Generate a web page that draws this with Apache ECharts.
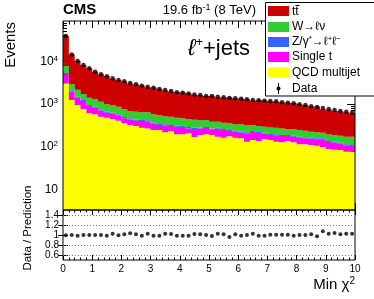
<!DOCTYPE html>
<html><head><meta charset="utf-8">
<script src="https://cdn.jsdelivr.net/npm/echarts@6/dist/echarts.min.js"></script>
<style>html,body{margin:0;padding:0;background:#fff}#c{width:374px;height:299px}</style>
</head><body><div id="c"></div>
<script>
// 50 bins of Min chi2 from 0 to 10 (width 0.2)
const binLabels = Array.from({length: 50}, (_, i) => (i * 0.2).toFixed(1));
const xTickLabels = ['0','1','2','3','4','5','6','7','8','9','10'];
const yMainTicks = [10, 100, 1000, 10000];
const yRatioTicks = [0.6, 0.8, 1, 1.2, 1.4];

const qcd = [3050,1240,950,765,605,575,505,480,445,408,353,322,305,279,269,246,246,217,233,195,195,206,169,188,195,188,171,162,175,162,157,131,144,136,152,144,131,127,136,127,114,114,110,105,98,88,85,84,76,76];
const singleTop = [1930,700,450,410,295,245,205,145,148,135,109,115,103,121,125,101,76,93,72,100,95,63,91,81,79,69,93,84,58,62,56,75,77,73,50,44,54,51,42,44,48,43,44,44,51,41,39,34,32,28];
const zjets = [340,150,80,65,50,45,40,35,32,32,38,25,29,22,21,18,18,25,17,15,20,21,19,14,16,12,15,14,13,13,11,11,12,12,11,10,10,10,10,10,9,9,8,8,8,7,7,6,6,6];
const wjets = [2440,850,680,470,450,445,380,325,325,290,250,223,223,216,223,210,212,180,183,170,152,155,149,132,132,116,106,105,107,98,111,105,89,84,82,85,84,81,72,76,75,71,62,60,56,59,57,57,57,61];
const ttbar = [31500,11560,8170,6490,5500,4390,3870,3575,2945,2810,2605,2335,2195,2090,1835,1865,1730,1560,1465,1445,1390,1350,1220,1185,1130,1185,1065,1050,1085,1010,1010,970,885,930,920,885,870,825,810,795,740,715,650,655,540,550,510,495,470,440];
const dataCounts = [39000,14500,10200,8200,6900,5700,5000,4500,4000,3650,3400,3120,2890,2690,2540,2410,2250,2130,2010,1900,1830,1770,1680,1620,1550,1540,1490,1435,1380,1360,1330,1290,1240,1220,1200,1175,1155,1100,1075,1040,985,950,885,850,805,765,725,686,660,630];
const ratio = [0.993,1.0,0.987,1.0,1.0,1.0,1.0,0.987,1.027,0.993,1.013,1.033,1.013,0.987,1.027,0.987,0.987,1.027,1.02,0.987,0.987,0.987,1.02,1.013,1.0,0.98,1.027,1.013,0.96,1.013,0.987,1.0,1.027,0.987,0.987,1.007,1.007,1.007,1.007,0.987,1.0,1.0,1.013,0.973,1.073,1.027,1.04,1.013,1.027,1.027];

const FONT = "'Liberation Sans', Arial, Helvetica, sans-serif";
const Y_MIN = 3.3, Y_MAX = 88000;

const components = [
  {name: 'QCD multijet', vals: qcd, color: '#ffff00'},
  {name: 'Single t', vals: singleTop, color: '#ff00ff'},
  {name: 'Z/gamma', vals: zjets, color: '#3366ff'},
  {name: 'W', vals: wjets, color: '#33cc33'},
  {name: 'ttbar', vals: ttbar, color: '#cc0000'}
];

// stacked boundaries, one filled step polygon per component
const cum = binLabels.map(() => 0);
const stackSeries = components.map((c, k) => {
  const lows = c.vals.map((v, i) => k === 0 ? 1 : cum[i]);
  c.vals.forEach((v, i) => { cum[i] += v; });
  const highs = cum.slice();
  return {
    type: 'custom', name: c.name, xAxisIndex: 0, yAxisIndex: 0, clip: true,
    silent: true, animation: false, z: 2,
    renderItem: function (params, api) {
      const w = api.coord([1, 10])[0] - api.coord([0, 10])[0];
      const top = [], bot = [];
      for (let i = 0; i < highs.length; i++) {
        const ph = api.coord([i, highs[i]]);
        const pl = api.coord([i, lows[i]]);
        top.push([ph[0] - w / 2, ph[1]], [ph[0] + w / 2, ph[1]]);
        bot.push([pl[0] - w / 2, pl[1]], [pl[0] + w / 2, pl[1]]);
      }
      const pts = top.concat(bot.reverse());
      return {type: 'polygon', shape: {points: pts}, style: {fill: c.color}};
    },
    data: [[0, 10]]
  };
});

const minorLog = [];
for (let e = 0; e <= 4; e++) for (let m = 2; m <= 9; m++) { const v = m * Math.pow(10, e); if (v > Y_MIN && v < Y_MAX) minorLog.push(v); }

function logLabel(v) {
  const e = Math.round(Math.log10(v));
  return e === 1 ? '10' : '10{s|' + e + '}';
}

const chart = echarts.init(document.getElementById('c'), null, {renderer: 'canvas'});
const blk = {color: '#000', width: 1};
const xValAxis = (grid, pos, showLabel, majLen, minLen) => ({
  type: 'value', gridIndex: grid, position: pos, min: 0, max: 10, interval: 1,
  axisLine: {show: false}, splitLine: {show: false},
  axisTick: {show: true, inside: true, length: majLen, lineStyle: blk},
  minorTick: {show: true, splitNumber: 5, length: minLen, lineStyle: blk},
  axisLabel: {show: showLabel, fontFamily: FONT, fontSize: 10, color: '#000', margin: 4,
    formatter: v => xTickLabels[Math.round(v)]}
});
const logAxis = (pos, ticks, len, labels) => ({
  type: 'log', gridIndex: 0, position: pos, min: Y_MIN, max: Y_MAX, logBase: 10,
  axisLine: {show: false}, splitLine: {show: false}, minorTick: {show: false},
  axisTick: {show: true, inside: true, length: len, lineStyle: blk, customValues: ticks},
  axisLabel: labels ? {show: true, customValues: ticks, fontFamily: FONT, fontSize: 12, color: '#000', margin: 5,
    formatter: logLabel, rich: {s: {fontFamily: FONT, fontSize: 8, verticalAlign: 'top', lineHeight: 14, color: '#000'}}}
    : {show: false}
});

const option = {
  animation: false,
  backgroundColor: '#fff',
  grid: [
    {left: 63, top: 21, width: 292, height: 189, show: true, borderColor: '#000', borderWidth: 1, backgroundColor: 'transparent', z: 5},
    {left: 63, top: 210, width: 292, height: 50, show: true, borderColor: '#000', borderWidth: 1, backgroundColor: 'transparent', z: 5}
  ],
  xAxis: [
    {type: 'category', gridIndex: 0, data: binLabels, show: false, boundaryGap: true, position: 'bottom'},
    xValAxis(0, 'bottom', false, 7, 3.5),
    xValAxis(0, 'top', false, 7, 3.5),
    {type: 'category', gridIndex: 1, data: binLabels, show: false, boundaryGap: true, position: 'bottom'},
    xValAxis(1, 'bottom', true, 5, 2.5),
    xValAxis(1, 'top', false, 5, 2.5)
  ],
  yAxis: [
    logAxis('left', yMainTicks, 8, true),
    logAxis('left', minorLog, 4, false),
    logAxis('right', yMainTicks, 8, false),
    logAxis('right', minorLog, 4, false),
    {type: 'value', gridIndex: 1, position: 'left', min: 0.5, max: 1.5,
      axisLine: {show: false}, splitLine: {show: false},
      axisTick: {show: true, inside: true, length: 5, lineStyle: blk, customValues: yRatioTicks},
      axisLabel: {show: true, customValues: yRatioTicks, fontFamily: FONT, fontSize: 10, color: '#000', margin: 4,
        formatter: v => String(+v.toFixed(1))}},
    {type: 'value', gridIndex: 1, position: 'right', min: 0.5, max: 1.5,
      axisLine: {show: false}, splitLine: {show: false},
      axisTick: {show: true, inside: true, length: 5, lineStyle: blk, customValues: yRatioTicks},
      axisLabel: {show: false}}
  ],
  series: stackSeries.concat([
    {type: 'scatter', xAxisIndex: 0, yAxisIndex: 0, symbol: 'circle', symbolSize: 4.5, silent: true,
      itemStyle: {color: '#000'}, data: dataCounts.map((v, i) => [i, v]), z: 10},
    {type: 'scatter', xAxisIndex: 3, yAxisIndex: 4, symbol: 'circle', symbolSize: 4, silent: true,
      itemStyle: {color: '#000'}, data: ratio.map((v, i) => [i, v]), z: 10,
      markLine: {silent: true, symbol: 'none', label: {show: false}, animation: false,
        lineStyle: {color: '#777', type: [1, 2], width: 1},
        data: [{yAxis: 0.6}, {yAxis: 0.8}, {yAxis: 1.2}, {yAxis: 1.4}]}}
  ]),
  graphic: [
    {type: 'text', x: 63, y: 17, style: {text: 'CMS', font: 'bold 15px ' + FONT, fill: '#000', textVerticalAlign: 'bottom', verticalAlign: 'bottom'}},
    {type: 'text', x: 256, y: 18, style: {text: '19.6 fb{s|-1} (8 TeV)', font: '13px ' + FONT, fill: '#000',
      textAlign: 'right', align: 'right', textVerticalAlign: 'bottom', verticalAlign: 'bottom',
      rich: {s: {fontSize: 9, fontFamily: FONT, verticalAlign: 'top', lineHeight: 15}}}},
    {type: 'text', x: 188, y: 49, style: {text: '{l|\u2113}{s|+}+jets', font: '22px ' + FONT, fill: '#000',
      textVerticalAlign: 'middle', verticalAlign: 'middle',
      rich: {l: {fontSize: 23, fontFamily: FONT, fontStyle: 'italic', lineHeight: 26}, s: {fontSize: 13, fontFamily: FONT, verticalAlign: 'top', lineHeight: 26}}}},
    {type: 'text', x: 11, y: 22, rotation: Math.PI / 2, style: {text: 'Events', font: '15px ' + FONT, fill: '#000',
      textAlign: 'right', align: 'right', textVerticalAlign: 'middle', verticalAlign: 'middle'}},
    {type: 'text', x: 28, y: 228, rotation: Math.PI / 2, style: {text: 'Data / Prediction', font: '11.5px ' + FONT, fill: '#000',
      textAlign: 'center', align: 'center', textVerticalAlign: 'middle', verticalAlign: 'middle'}},
    {type: 'text', x: 355, y: 294, style: {text: 'Min \u03c7{s|2}', font: '15px ' + FONT, fill: '#000',
      textAlign: 'right', align: 'right', textVerticalAlign: 'bottom', verticalAlign: 'bottom',
      rich: {s: {fontSize: 10, fontFamily: FONT, verticalAlign: 'top', lineHeight: 18}}}},
    // legend
    {type: 'rect', shape: {x: 265.5, y: 2.5, width: 120, height: 93.5}, style: {fill: '#fff', stroke: '#000', lineWidth: 1}, z: 20},
    {type: 'rect', shape: {x: 268, y: 6, width: 21, height: 10}, style: {fill: '#cc0000'}, z: 21},
    {type: 'rect', shape: {x: 268, y: 22, width: 21, height: 10}, style: {fill: '#33cc33'}, z: 21},
    {type: 'rect', shape: {x: 268, y: 37, width: 21, height: 10}, style: {fill: '#3366ff'}, z: 21},
    {type: 'rect', shape: {x: 268, y: 52, width: 21, height: 10}, style: {fill: '#ff00ff'}, z: 21},
    {type: 'rect', shape: {x: 268, y: 67.5, width: 21, height: 10}, style: {fill: '#ffff00'}, z: 21},
    {type: 'line', shape: {x1: 278.5, y1: 83, x2: 278.5, y2: 94}, style: {stroke: '#000', lineWidth: 1}, z: 21},
    {type: 'circle', shape: {cx: 278.5, cy: 88.5, r: 2}, style: {fill: '#000'}, z: 21},
    {type: 'text', x: 292, y: 12, z: 21, style: {text: 'tt', font: '12px ' + FONT, fill: '#000', textVerticalAlign: 'middle', verticalAlign: 'middle'}},
    {type: 'line', shape: {x1: 295.5, y1: 5.5, x2: 299.5, y2: 5.5}, style: {stroke: '#000', lineWidth: 1}, z: 21},
    {type: 'text', x: 292, y: 27, z: 21, style: {text: 'W\u2192\u2113\u03bd', font: '12px ' + FONT, fill: '#000', textVerticalAlign: 'middle', verticalAlign: 'middle'}},
    {type: 'text', x: 292, y: 42, z: 21, style: {text: 'Z/\u03b3{s|*}\u2192\u2113{s|+}\u2113{s|\u2212}', font: '12px ' + FONT, fill: '#000', textVerticalAlign: 'middle', verticalAlign: 'middle',
      rich: {s: {fontSize: 8, fontFamily: FONT, verticalAlign: 'top', lineHeight: 14}}}},
    {type: 'text', x: 292, y: 57, z: 21, style: {text: 'Single t', font: '12px ' + FONT, fill: '#000', textVerticalAlign: 'middle', verticalAlign: 'middle'}},
    {type: 'text', x: 292, y: 72.5, z: 21, style: {text: 'QCD multijet', font: '12px ' + FONT, fill: '#000', textVerticalAlign: 'middle', verticalAlign: 'middle'}},
    {type: 'text', x: 292, y: 88.5, z: 21, style: {text: 'Data', font: '12px ' + FONT, fill: '#000', textVerticalAlign: 'middle', verticalAlign: 'middle'}}
  ]
};
chart.setOption(option);
</script>
</body></html>
